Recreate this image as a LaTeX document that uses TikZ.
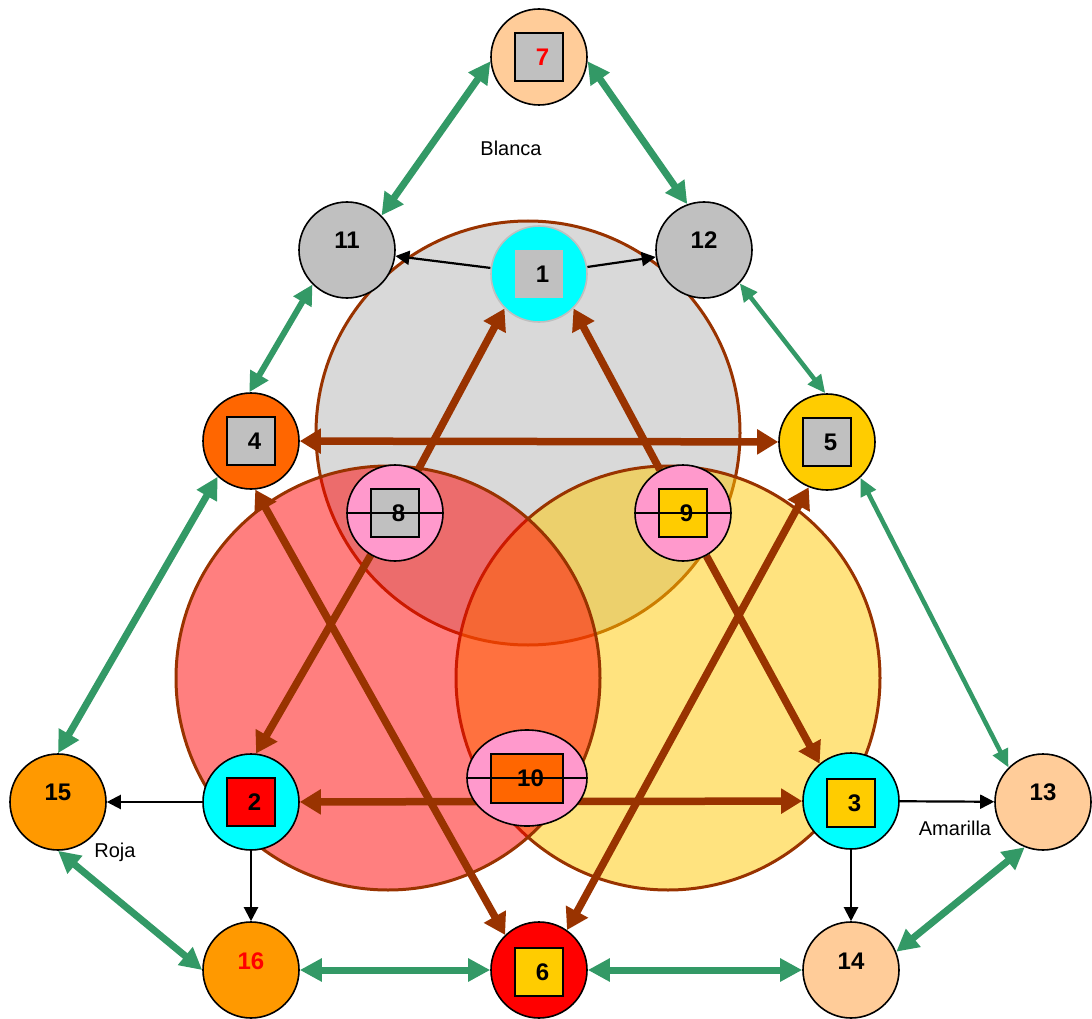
\documentclass[tikz,border=0pt]{standalone}
\usepackage{fontspec}
\setmainfont{Liberation Sans}
\usetikzlibrary{arrows.meta,shapes.geometric}
\pgfdeclarelayer{disks}
\pgfdeclarelayer{links}
\pgfsetlayers{disks,links,main}
\definecolor{brn}{HTML}{993300}
\definecolor{grn}{HTML}{339966}
\definecolor{peach}{HTML}{FFCC99}
\definecolor{sqgray}{HTML}{C0C0C0}
\definecolor{lgray}{HTML}{D9D9D9}
\definecolor{gold}{HTML}{FFCC00}
\definecolor{orng}{HTML}{FF6600}
\definecolor{amber}{HTML}{FF9900}
\definecolor{pink}{HTML}{FF99CC}
\definecolor{yel}{HTML}{FFC800}
\definecolor{aqua}{HTML}{00FFFF}
\definecolor{rd}{HTML}{FF0000}

\begin{document}
\begin{tikzpicture}[x=1pt,y=-1pt,
  disc/.style={circle,draw,line width=1.6pt,minimum size=96pt,inner sep=0pt,
    font=\fontsize{24}{28}\selectfont\bfseries},
  sqbox/.style={draw,line width=2pt,minimum size=48pt,inner sep=0pt,
    font=\fontsize{24}{28}\selectfont\bfseries,
    execute at begin node=\hspace*{7pt}},
  big/.style={draw=brn,line width=3pt},
  brarr/.style={brn,line width=7.5pt,-{Triangle[length=21pt,width=24pt]}},
  brdbl/.style={brn,line width=7.5pt,
    {Triangle[length=21pt,width=24pt]}-{Triangle[length=21pt,width=24pt]}},
  gthick/.style={grn,line width=7pt,
    {Triangle[length=22pt,width=22pt]}-{Triangle[length=22pt,width=22pt]}},
  gmid/.style={grn,line width=6pt,
    {Triangle[length=20pt,width=20pt]}-{Triangle[length=20pt,width=20pt]}},
  gthin/.style={grn,line width=4.5pt,
    {Triangle[length=18pt,width=16pt]}-{Triangle[length=18pt,width=16pt]}},
  blk/.style={black,line width=2.2pt,-{Triangle[length=14pt,width=14pt]}},
  lbl/.style={font=\fontsize{20}{24}\selectfont}]
 \useasboundingbox (0,0) rectangle (1092,1019);

 % the three colour disks
 \begin{pgfonlayer}{disks}
  \draw[big,fill=lgray] (528,433) circle (212);
  \draw[big,fill=yel,fill opacity=.5] (668,678) circle (212);
  \draw[big,fill=rd,fill opacity=.5] (388,678) circle (212);
 \end{pgfonlayer}

 \node[disc,fill=peach] (n7) at (539,57) {};
 \node[sqbox,fill=sqgray,text=rd] (s7) at (n7) {7};
 \node[disc,fill=sqgray] (n11) at (347,250) {\raisebox{20pt}{11}};
 \node[disc,fill=sqgray] (n12) at (704,250) {\raisebox{20pt}{12}};
 \node[disc,fill=aqua,draw=black!25] (n1) at (539,274) {};
 \node[sqbox,fill=sqgray,draw=none] (s1) at (n1) {1};
 \node[disc,fill=orng] (n4) at (251,441) {};
 \node[sqbox,fill=sqgray] (s4) at (n4) {4};
 \node[disc,fill=gold] (n5) at (827,442) {};
 \node[sqbox,fill=sqgray] (s5) at (n5) {5};
 \node[disc,fill=pink] (n8) at (395,513) {};
 \node[sqbox,fill=sqgray] (s8) at (n8) {8};
 \node[disc,fill=pink] (n9) at (683,513) {};
 \node[sqbox,fill=gold] (s9) at (n9) {9};
 \node[disc,ellipse,minimum width=120pt,minimum height=96pt,fill=pink]
   (n10) at (527,778) {};
 \node[sqbox,minimum width=72pt,minimum height=49pt,fill=orng,
   execute at begin node={}] (s10) at (n10) {10};
 \node[disc,fill=aqua] (n2) at (251,802) {};
 \node[sqbox,fill=rd] (s2) at (n2) {2};
 \node[disc,fill=aqua] (n3) at (851,801) {};
 \node[sqbox,fill=gold] (s3) at ([yshift=-2pt]n3.center) {3};
 \node[disc,fill=amber] (n15) at (58,802) {\raisebox{20pt}{15}};
 \node[disc,fill=amber,text=rd] (n16) at (251,970) {\raisebox{18pt}{16}};
 \node[disc,fill=rd] (n6) at (539,970) {};
 \node[sqbox,fill=gold] (s6) at ([yshift=-2pt]n6.center) {6};
 \node[disc,fill=peach] (n14) at (851,970) {\raisebox{18pt}{14}};
 \node[disc,fill=peach] (n13) at (1043,802) {\raisebox{20pt}{13}};
 \foreach \n in {n8,n9,n10}
  \draw[line width=1.6pt] (\n.west) -- (\n.east);

 \node[lbl] (blanca) at (511,148) {Blanca};
 \node[lbl] (roja) at (115,852) {Roja};
 \node[lbl] (amarilla) at (955,828) {Amarilla};

 \begin{pgfonlayer}{links}
  \draw[brarr] (n8) -- (n1.225);
  \draw[brarr] (n9) -- (n1.-45);
  \draw[brdbl] (n4) -- (n5);
  \draw[brarr] (n8) -- (n2.84);
  \draw[brarr] (n9) -- (n3.130);
  \draw[brdbl] (n4.-85) -- (n6.134);
  \draw[brdbl] (n5.248) -- (n6.55);
  \draw[brdbl] (n2) -- (n3);
  \draw[blk] (n1) -- (n11);
  \draw[blk] (n1) -- (n12);
  \draw[blk] (n2) -- (n15);
  \draw[blk] (n2) -- (n16);
  \draw[blk] (n3) -- (n13);
  \draw[blk] (n3) -- (n14);
  \draw[gthick] (n7.185) -- (n11.45);
  \draw[gthick] (n7.-5) -- (n12.110);
  \draw[gmid] (n11.225) -- (n4.92);
  \draw[gthin] (n12.-43) -- (n5.92);
  \draw[gthick] (n4.227) -- (n15.north);
  \draw[gthin] (n5.-47) -- (n13.135);
  \draw[gthick] (n15.south) -- (n16.west);
  \draw[gthick] (n16) -- (n6);
  \draw[gthick] (n6) -- (n14);
  \draw[gthick] (n14.22) -- (n13.248);
 \end{pgfonlayer}
\end{tikzpicture}
\end{document}
